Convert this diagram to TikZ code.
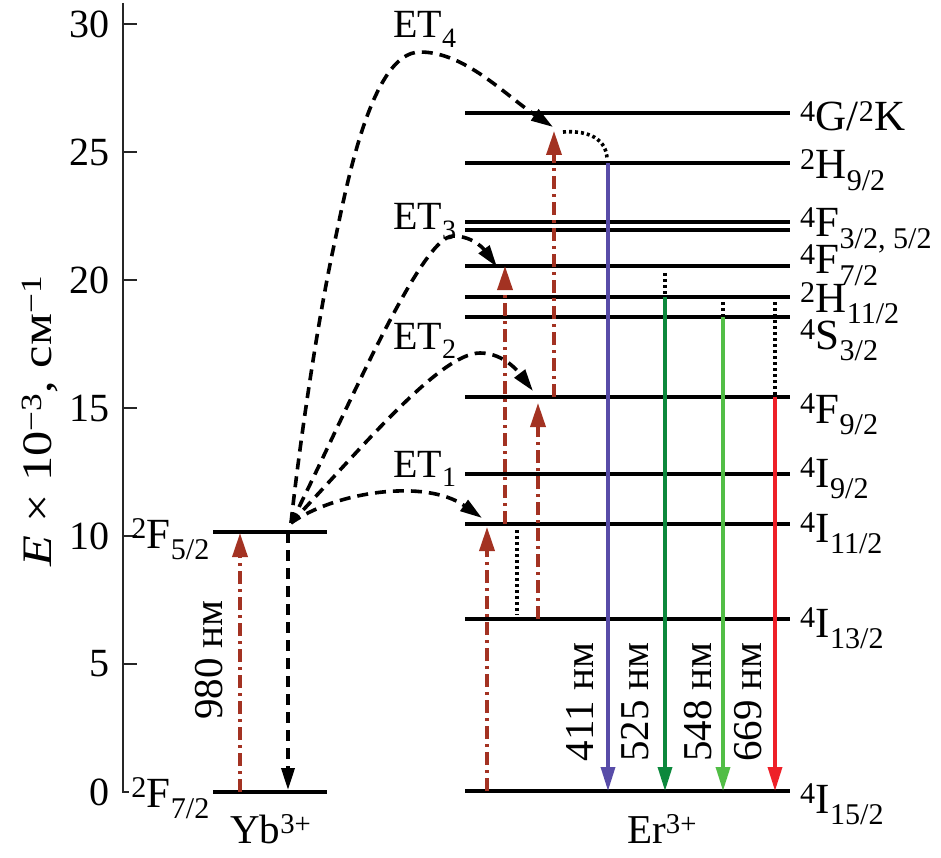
\documentclass[tikz,border=0pt]{standalone}
\usepackage{fontspec}
\setmainfont{Liberation Serif}
\usetikzlibrary{arrows.meta}
\definecolor{excol}{RGB}{163,50,34}
\definecolor{violcol}{RGB}{88,76,168}
\definecolor{dgrcol}{RGB}{12,136,60}
\definecolor{lgrcol}{RGB}{82,190,70}
\definecolor{redcol}{RGB}{238,32,40}
\begin{document}
\begin{tikzpicture}[x=1pt,y=-1pt,
  lvl/.style={line width=4pt},
  axisline/.style={line width=2.2pt, color=black!85},
  ticklab/.style={font=\fontsize{40}{48}\selectfont, anchor=east, inner sep=0pt},
  levlab/.style={font=\fontsize{43}{52}\selectfont, anchor=base west, inner sep=0pt},
  etlab/.style={font=\fontsize{40}{48}\selectfont, anchor=base west, inner sep=0pt},
  wavelab/.style={font=\fontsize{41}{48}\selectfont, rotate=90, inner sep=0pt},
  ionlab/.style={font=\fontsize{41}{48}\selectfont, anchor=base west, inner sep=0pt},
  excarrow/.style={color=excol, line width=3.5pt, dash pattern=on 13pt off 5pt on 3pt off 5pt, -{Triangle[length=24pt,width=15pt]}},
  etarrow/.style={line width=3.6pt, dash pattern=on 11pt off 7pt, -{Triangle[length=22pt,width=13pt]}},
  emarrow/.style={line width=3.4pt, -{Triangle[length=24pt,width=14pt]}},
  relax/.style={line width=3.6pt, dash pattern=on 3pt off 3pt},
]
\useasboundingbox (0,0) rectangle (941,858);

% axis
\coordinate (axtop) at (123,3);
\coordinate (axbot) at (123,792);
\draw[axisline] (axtop) -- (axbot) -- ++(6,0);
\foreach \v/\yy in {5/664,10/536,15/408,20/280,25/152,30/24} {
  \draw[axisline] (123,\yy) -- ++(14,0);
  \node[ticklab] (tk\v) at (110,\yy) {\v};
}
\node[ticklab] (tk0) at (110,792) {0};
\node[font=\fontsize{42}{48}\selectfont, rotate=90, inner sep=0pt] (ylab) at (40,421)
  {\scalebox{1.2}[1]{\textit{E} × 10\textsuperscript{−3}, см\textsuperscript{−1}}};

% Yb levels
\coordinate (yb2) at (213,532);
\coordinate (yb1) at (213,792);
\draw[lvl] (yb2) -- ++(114,0);
\draw[lvl] (yb1) -- ++(114,0);
\node[levlab, anchor=base east] (lyb2) at (210,548) {\textsuperscript{2}F\textsubscript{5/2}};
\node[levlab, anchor=base east] (lyb1) at (210,807) {\textsuperscript{2}F\textsubscript{7/2}};
\node[ionlab] (yb) at (230,843) {Yb\textsuperscript{3+}};

% Er levels
\coordinate (G) at (465,113);
\coordinate (H9) at (465,163);
\coordinate (F3a) at (465,222);
\coordinate (F3b) at (465,230);
\coordinate (F7) at (465,266);
\coordinate (H11) at (465,297);
\coordinate (S3) at (465,317);
\coordinate (F9) at (465,397);
\coordinate (I9) at (465,474);
\coordinate (I11) at (465,524);
\coordinate (I13) at (465,619);
\coordinate (I15) at (465,791);
\foreach \l in {G,H9,F3a,F3b,F7,H11,S3,F9,I9,I11,I13,I15}
  \draw[lvl] (\l) -- ++(325,0);

\node[levlab] (lG) at (800,131) {\textsuperscript{4}G/\textsuperscript{2}K};
\node[levlab] (lH9) at (800,179) {\textsuperscript{2}H\textsubscript{9/2}};
\node[levlab] (lF3) at (800,237) {\textsuperscript{4}F\textsubscript{3/2, 5/2}};
\node[levlab] (lF7) at (800,274) {\textsuperscript{4}F\textsubscript{7/2}};
\node[levlab] (lH11) at (800,312) {\textsuperscript{2}H\textsubscript{11/2}};
\node[levlab] (lS3) at (800,349) {\textsuperscript{4}S\textsubscript{3/2}};
\node[levlab] (lF9) at (800,423) {\textsuperscript{4}F\textsubscript{9/2}};
\node[levlab] (lI9) at (800,487) {\textsuperscript{4}I\textsubscript{9/2}};
\node[levlab] (lI11) at (800,542) {\textsuperscript{4}I\textsubscript{11/2}};
\node[levlab] (lI13) at (800,637) {\textsuperscript{4}I\textsubscript{13/2}};
\node[levlab] (lI15) at (800,813) {\textsuperscript{4}I\textsubscript{15/2}};
\node[ionlab] (er) at (627,843) {Er\textsuperscript{3+}};

% columns
\coordinate (cyb) at (240,0);
\coordinate (cyd) at (288,0);
\coordinate (c1) at (487,0);
\coordinate (c2) at (505,0);
\coordinate (cd1) at (517,0);
\coordinate (c3) at (538,0);
\coordinate (c4) at (554,0);
\coordinate (c5) at (608,0);
\coordinate (c6) at (665,0);
\coordinate (c7) at (723,0);
\coordinate (c8) at (775,0);

% Yb transitions
\draw[excarrow, shorten >=1pt] (yb1 -| cyb) -- (yb2 -| cyb);
\node[wavelab] (l980) at (209,660) {980 нм};
\draw[etarrow, shorten >=2pt] (yb2 -| cyd) -- (yb1 -| cyd);

% ET curves
\coordinate (O) at (291,523);
\coordinate (t1) at (482,518);
\coordinate (t2) at (533,391);
\coordinate (t3) at (497,267);
\coordinate (t4) at (553,127);
\coordinate (pk2) at (480,353);
\coordinate (pk3) at (453,236);
\coordinate (m4) at (333,250);
\coordinate (pk4) at (420,52);
\draw[etarrow] (O) .. controls (335,492) and (425,478) .. (t1);
\draw[etarrow] (O) .. controls (360,450) and (440,353) .. (pk2)
  .. controls (505,353) and (520,374) .. (t2);
\draw[etarrow] (O) .. controls (340,427) and (420,236) .. (pk3)
  .. controls (475,236) and (486,252) .. (t3);
\draw[etarrow] (O) .. controls (300,440) and (318,320) .. (m4)
  .. controls (345,194) and (370,52) .. (pk4)
  .. controls (465,52) and (505,95) .. (t4);
\node[etlab] (et1) at (393,477) {ET\textsubscript{1}};
\node[etlab] (et2) at (393,349) {ET\textsubscript{2}};
\node[etlab] (et3) at (393,230) {ET\textsubscript{3}};
\node[etlab] (et4) at (393,38) {ET\textsubscript{4}};

% Er excitation
\coordinate (top4) at (554,131);
\draw[excarrow, shorten >=3pt] (I15 -| c1) -- (I11 -| c1);
\draw[excarrow] (I11 -| c2) -- (F7 -| c2);
\draw[excarrow, shorten >=6pt] (I13 -| c3) -- (F9 -| c3);
\draw[excarrow] (F9 -| c4) -- (top4);

% non-radiative relaxation
\coordinate (d4a) at (563,132);
\coordinate (d4b) at (607,158);
\draw[relax] (d4a) .. controls (590,130) and (606,140) .. (d4b);
\draw[relax, shorten <=6pt, shorten >=4pt] (I11 -| cd1) -- (I13 -| cd1);
\draw[relax, shorten <=7pt, shorten >=2pt] (F7 -| c6) -- (H11 -| c6);
\draw[relax, shorten <=5pt, shorten >=2pt] (H11 -| c7) -- (S3 -| c7);
\draw[relax, shorten <=5pt] (H11 -| c8) -- (F9 -| c8);

% emission
\draw[emarrow, violcol] (H9 -| c5) -- (I15 -| c5);
\draw[emarrow, dgrcol] (H11 -| c6) -- (I15 -| c6);
\draw[emarrow, lgrcol] (S3 -| c7) -- (I15 -| c7);
\draw[emarrow, redcol] (F9 -| c8) -- (I15 -| c8);
\node[wavelab] (w411) at (580,702) {411 нм};
\node[wavelab] (w525) at (635,702) {525 нм};
\node[wavelab] (w548) at (698,702) {548 нм};
\node[wavelab] (w669) at (748,702) {669 нм};
\end{tikzpicture}
\end{document}
